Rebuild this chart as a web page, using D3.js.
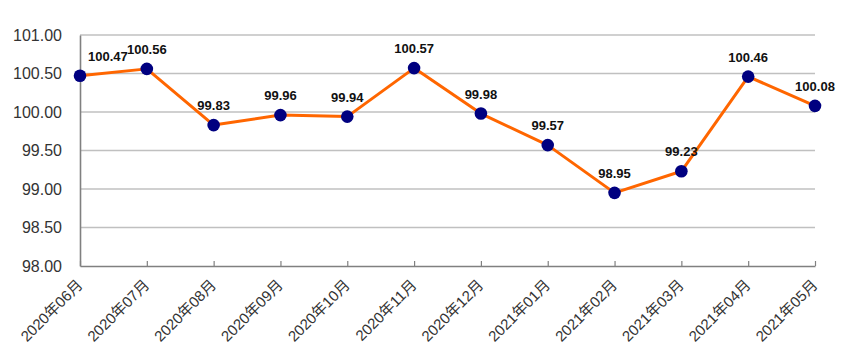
<!DOCTYPE html>
<html><head><meta charset="utf-8">
<script src="https://cdn.jsdelivr.net/npm/d3@7"></script>
<style>
html,body{margin:0;padding:0;background:#fff;}
svg{display:block;}
text{font-family:"Liberation Sans",Arial,"Noto Sans CJK SC",sans-serif;}
</style></head><body>
<svg id="chart" width="850" height="357"></svg>
<script>
const months = ["2020年06月","2020年07月","2020年08月","2020年09月","2020年10月","2020年11月","2020年12月","2021年01月","2021年02月","2021年03月","2021年04月","2021年05月"];
const values = [100.47,100.56,99.83,99.96,99.94,100.57,99.98,99.57,98.95,99.23,100.46,100.08];
const yTicks = [98.00,98.50,99.00,99.50,100.00,100.50,101.00];

(function(){
const svg = d3.select("#chart");
const mL = 80, mR = 815, mT = 35, mB = 266;

const x = d3.scalePoint().domain(months).range([mL, mR]);
const y = d3.scaleLinear().domain([98, 101]).range([mB, mT]);

// gridlines
svg.append("g").selectAll("line").data(yTicks.filter(d => d > 98)).join("line")
  .attr("x1", mL).attr("x2", mR)
  .attr("y1", d => y(d)).attr("y2", d => y(d))
  .attr("stroke", "#c0c0c0").attr("stroke-width", 1.6);

// y axis
const yAxis = d3.axisLeft(y).tickValues(yTicks).tickFormat(d3.format(".2f")).tickSize(0).tickPadding(18);
const gy = svg.append("g").attr("transform", `translate(${mL},0)`).call(yAxis);
gy.select(".domain").attr("stroke", "#808080").attr("stroke-width", 1.6);
gy.selectAll("text").attr("font-size", 16).attr("fill", "#333").attr("font-family", '"Liberation Sans",Arial,sans-serif');

// x axis
const xAxis = d3.axisBottom(x).tickSize(-5).tickSizeOuter(0).tickPadding(0);
const gx = svg.append("g").attr("transform", `translate(0,${mB})`).call(xAxis);
gx.select(".domain").attr("stroke", "#808080").attr("stroke-width", 1.6);
gx.selectAll(".tick line").attr("stroke", "#808080").attr("stroke-width", 1.2);
gx.selectAll("text")
  .attr("font-size", 15).attr("fill", "#333")
  .attr("text-anchor", "end")
  .attr("dy", null).attr("y", null)
  .attr("transform", "translate(3,20) rotate(-45)");

// line
const line = d3.line().x((d, i) => x(months[i])).y(d => y(d));
svg.append("path").datum(values).attr("d", line)
  .attr("fill", "none").attr("stroke", "#ff6600").attr("stroke-width", 3).attr("stroke-linejoin", "round");

// markers
svg.append("g").selectAll("circle").data(values).join("circle")
  .attr("cx", (d, i) => x(months[i])).attr("cy", d => y(d)).attr("r", 6.3)
  .attr("fill", "#000080");

// data labels
svg.append("g").selectAll("text").data(values).join("text")
  .attr("x", (d, i) => i === 0 ? x(months[i]) + 8 : x(months[i]))
  .attr("y", d => y(d) - 15)
  .attr("text-anchor", (d, i) => i === 0 ? "start" : "middle")
  .attr("font-size", 13).attr("font-weight", "bold").attr("fill", "#111")
  .text(d => d.toFixed(2));
})();
</script>
</body></html>
